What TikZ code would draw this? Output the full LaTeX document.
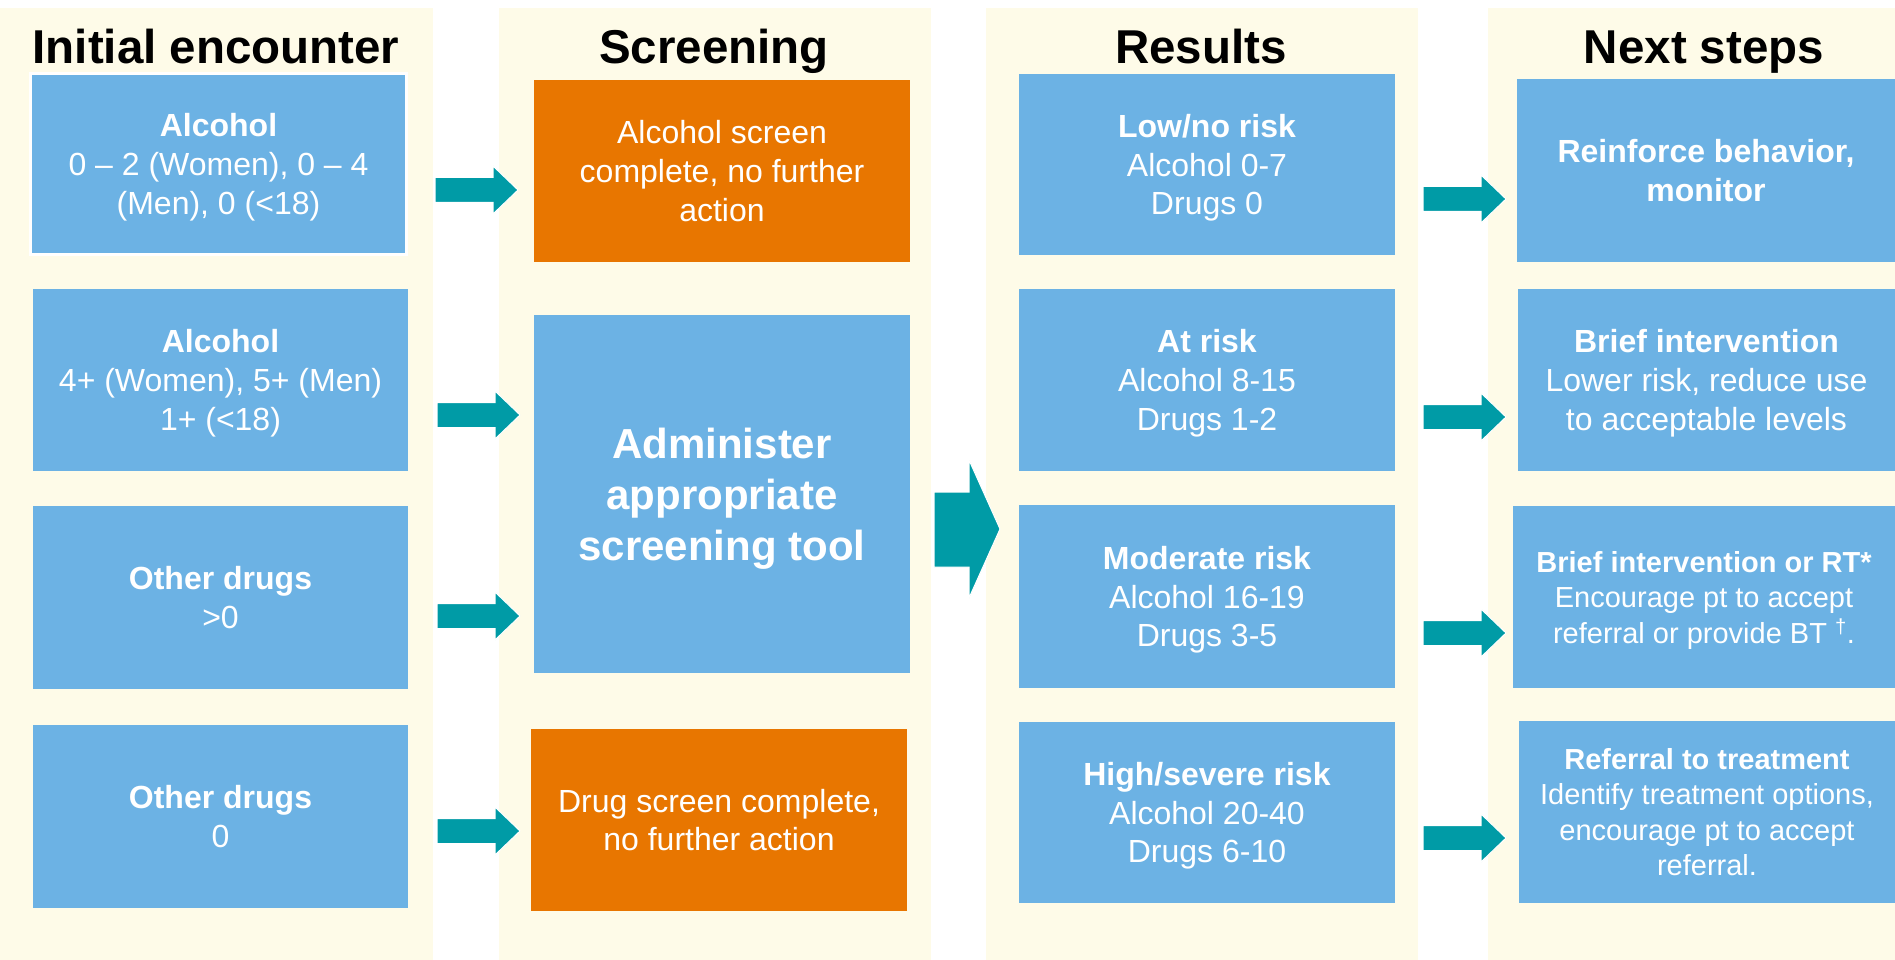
\documentclass[tikz,border=0pt]{standalone}
\usepackage{fontspec}
\setmainfont{Liberation Sans}
\definecolor{cream}{RGB}{254,251,232}
\definecolor{boxblue}{RGB}{108,178,228}
\definecolor{boxorange}{RGB}{232,118,0}
\definecolor{arrowteal}{RGB}{0,155,166}
\tikzset{
  colbg/.style={fill=cream},
  title/.style={anchor=base, font=\bfseries\fontsize{47.5}{57}\selectfont, text=black, inner sep=0pt},
  box/.style={fill=boxblue, text=white, align=center, inner sep=0pt, text depth=0pt, minimum width=376pt, minimum height=182pt, font=\fontsize{32}{38.7}\selectfont},
  obox/.style={box, fill=boxorange},
  smalltext/.style={font=\fontsize{29}{35.5}\selectfont},
  bigtext/.style={font=\bfseries\fontsize{42}{51}\selectfont},
  arr/.style={fill=arrowteal, draw=white, line width=1pt},
  smallarrow/.pic={\filldraw[arr] (-41.5,-12.5) -- (16.5,-12.5) -- (16.5,-24) -- (41.5,0) -- (16.5,24) -- (16.5,12.5) -- (-41.5,12.5) -- cycle;}
}
\begin{document}
\begin{tikzpicture}[x=1pt,y=-1pt]
\useasboundingbox (0,0) rectangle (1895,960);
\fill[white] (0,0) rectangle (1895,960);
% column backgrounds
\fill[colbg] (0,8) rectangle (433,960);
\fill[colbg] (499,8) rectangle (931,960);
\fill[colbg] (986,8) rectangle (1418,960);
\fill[colbg] (1488,8) rectangle (1895,960);
% titles
\node[title] (t1) at (216,64) {Initial encounter};
\node[title] (t2) at (714,64) {Screening};
\node[title] (t3) at (1201,64) {Results};
\node[title] (t4) at (1704,64) {Next steps};
% column 1
\node[box, draw=white, line width=3pt, minimum height=181pt] (b1) at (218.5,164) {\textbf{Alcohol}\\0 – 2 (Women), 0 – 4\\(Men), 0 (<18)};
\node[box, minimum width=375pt] (b2) at (220.5,380) {\textbf{Alcohol}\\4+ (Women), 5+ (Men)\\1+ (<18)};
\node[box, minimum width=375pt, minimum height=183pt] (b3) at (220.5,597.5) {\textbf{Other drugs}\\>0};
\node[box, minimum width=375pt, minimum height=183pt] (b4) at (220.5,816.5) {\textbf{Other drugs}\\0};
% column 2
\node[obox] (o1) at (722,171) {Alcohol screen\\complete, no further\\action};
\node[box, bigtext, minimum height=358pt] (big) at (722,494) {Administer\\appropriate\\screening tool};
\node[obox] (o2) at (719,820) {Drug screen complete,\\no further action};
% column 3
\node[box, minimum height=181pt] (r1) at (1207,164.5) {\textbf{Low/no risk}\\Alcohol 0-7\\Drugs 0};
\node[box] (r2) at (1207,380) {\textbf{At risk}\\Alcohol 8-15\\Drugs 1-2};
\node[box, minimum height=183pt] (r3) at (1207,596.5) {\textbf{Moderate risk}\\Alcohol 16-19\\Drugs 3-5};
\node[box, minimum height=181pt] (r4) at (1207,812.5) {\textbf{High/severe risk}\\Alcohol 20-40\\Drugs 6-10};
% column 4
\node[box, minimum width=378pt, minimum height=183pt] (n1) at (1706,170.5) {\textbf{Reinforce behavior,}\\\textbf{monitor}};
\node[box, minimum width=377pt] (n2) at (1706.5,380) {\textbf{Brief intervention}\\Lower risk, reduce use\\to acceptable levels};
\node[box, smalltext, minimum width=382pt] (n3) at (1704,597) {\textbf{Brief intervention or RT*}\\Encourage pt to accept\\referral or provide BT \textsuperscript{†}.};
\node[box, smalltext, minimum height=182pt] (n4) at (1707,812) {\textbf{Referral to treatment}\\Identify treatment options,\\encourage pt to accept\\referral.};
% arrows column 1 -> 2
\pic (a1) at (476.5,190) {smallarrow};
\pic (a2) at (478.5,415) {smallarrow};
\pic (a3) at (478.5,616) {smallarrow};
\pic (a4) at (478.5,831) {smallarrow};
% big arrow
\coordinate (bigtip) at (1000,529);
\filldraw[arr] (934,492) -- (969,492) -- (969,460) -- (bigtip) -- (969,598) -- (969,567) -- (934,567) -- cycle;
% arrows column 3 -> 4
\pic (a5) at (1464.5,199) {smallarrow};
\pic (a6) at (1464.5,417) {smallarrow};
\pic (a7) at (1464.5,633) {smallarrow};
\pic (a8) at (1464.5,838) {smallarrow};
\end{tikzpicture}
\end{document}
